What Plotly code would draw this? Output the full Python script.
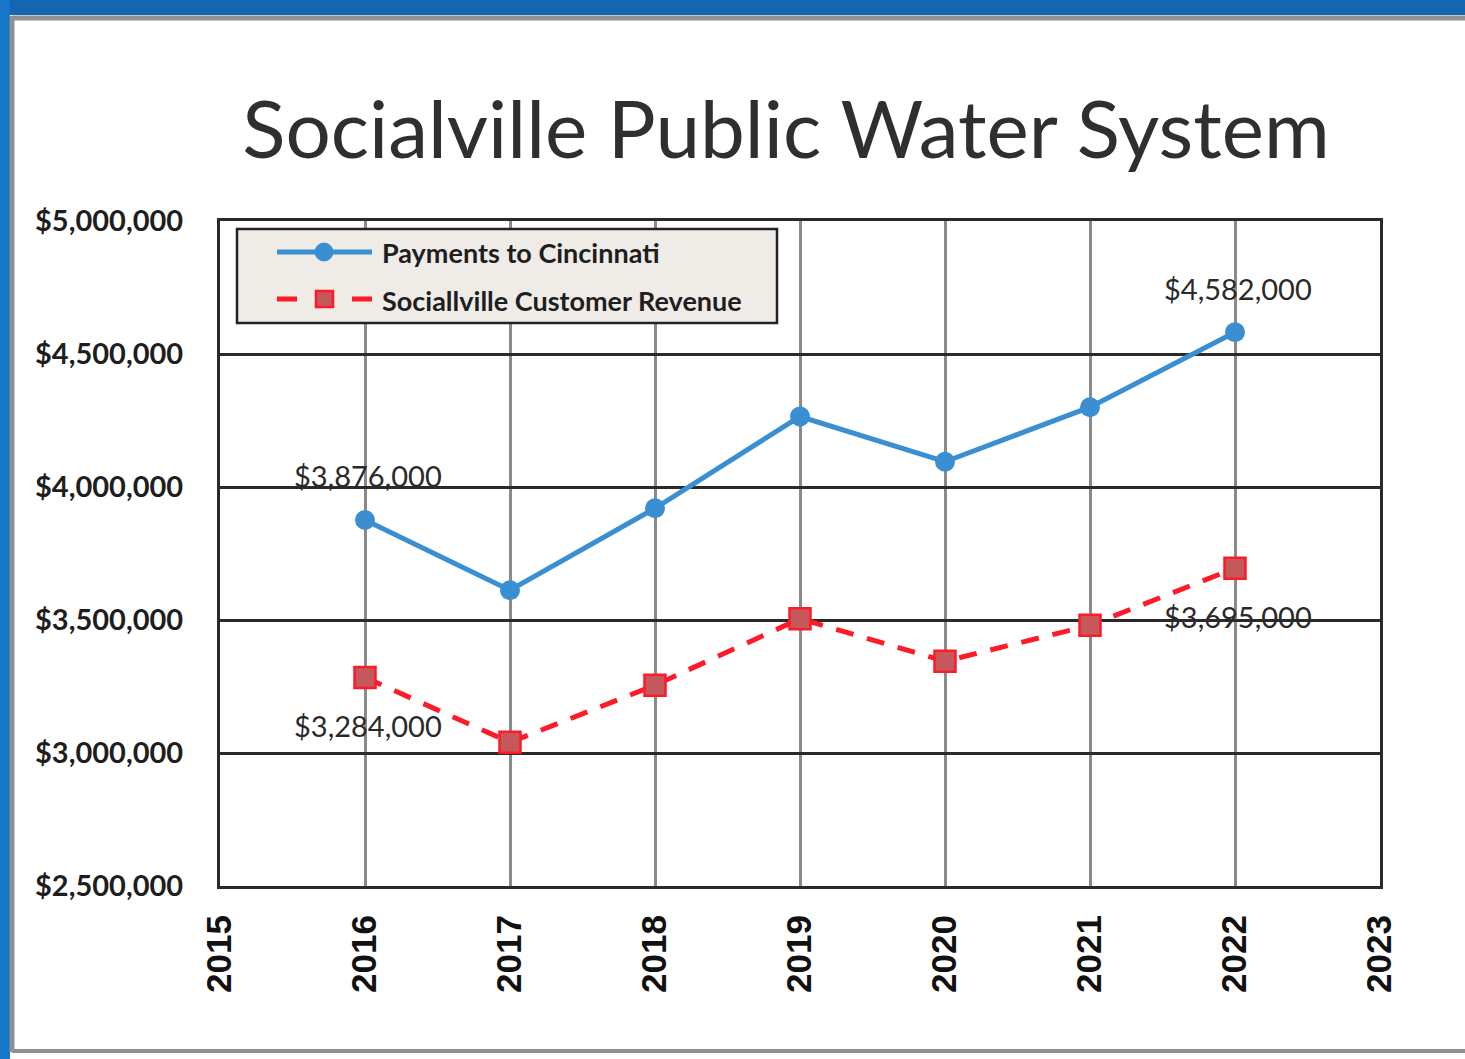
import plotly.graph_objects as go

# Annual figures for the Socialville public water system
years = [2016, 2017, 2018, 2019, 2020, 2021, 2022]
payments_to_cincinnati = [3876000, 3612000, 3920000, 4265000, 4095000, 4300000, 4582000]
customer_revenue = [3284000, 3040000, 3255000, 3505000, 3345000, 3480000, 3695000]

series_names = ["Payments to Cincinnati", "Sociallville Customer Revenue"]
x_ticks = list(range(2015, 2024))
y_ticks = [2500000, 3000000, 3500000, 4000000, 4500000, 5000000]
y_tick_text = ["${:,}".format(v) for v in y_ticks]

BLUE = "#3a8fd2"
RED = "#ff1a2a"
RED_FILL = "#c4585a"

W, H = 1465, 1059
PL, PR, PT, PB = 220, 1380, 221, 886  # plot area in pixels


def px_x(p):
    return (p - PL) / (PR - PL)


def px_y(p):
    return (PB - p) / (PB - PT)


fig = go.Figure()

fig.add_trace(go.Scatter(
    x=years, y=payments_to_cincinnati, name=series_names[0], mode="lines+markers",
    line=dict(color=BLUE, width=5),
    marker=dict(symbol="circle", size=20, color=BLUE),
    showlegend=False,
))
fig.add_trace(go.Scatter(
    x=years, y=customer_revenue, name=series_names[1], mode="lines+markers",
    line=dict(color=RED, width=5, dash="18px,14px"),
    marker=dict(symbol="square", size=21, color=RED_FILL, line=dict(color=RED, width=2.5)),
    showlegend=False,
))

label_font = dict(family="Lato, Carlito, sans-serif", size=29, color="#2a2a2a")
# Value labels on the first and last points of each series
for series, shift in ((payments_to_cincinnati, 44), (customer_revenue, -48)):
    for i in (0, len(years) - 1):
        fig.add_annotation(
            x=years[i], y=series[i], text="${:,}".format(series[i]),
            showarrow=False, yshift=shift, xshift=3, font=label_font,
        )

# Legend box drawn inside the plot area
shapes = []
shapes.append(dict(type="rect", xref="paper", yref="paper",
                   x0=px_x(237), x1=px_x(777), y0=px_y(323), y1=px_y(229),
                   fillcolor="#efebe7", line=dict(color="#222222", width=2.5), layer="above"))
for i, (color, dash) in enumerate(((BLUE, "solid"), (RED, "20px,55px"))):
    yy = px_y(252 + 47 * i)
    shapes.append(dict(type="line", xref="paper", yref="paper",
                       x0=px_x(277), x1=px_x(372), y0=yy, y1=yy,
                       line=dict(color=color, width=5, dash=dash), layer="above"))
# legend marker glyphs
cy = 252
shapes.append(dict(type="circle", xref="paper", yref="paper",
                   x0=px_x(315), x1=px_x(333), y0=px_y(cy + 9), y1=px_y(cy - 9),
                   fillcolor=BLUE, line=dict(color=BLUE, width=1), layer="above"))
cy = 299
shapes.append(dict(type="rect", xref="paper", yref="paper",
                   x0=px_x(316), x1=px_x(333), y0=px_y(cy + 8), y1=px_y(cy - 8),
                   fillcolor=RED_FILL, line=dict(color=RED, width=2.5), layer="above"))
for i, name in enumerate(series_names):
    fig.add_annotation(
        xref="paper", yref="paper", x=px_x(380), y=px_y(253 + 47 * i),
        xanchor="left", yanchor="middle", text="<b>" + name + "</b>", showarrow=False,
        font=dict(family="Lato, Carlito, sans-serif", size=27, color="#1e1e1e"),
    )

# Slide frame: blue edges and a grey inner border
frame = [
    dict(type="rect", xref="paper", yref="paper", x0=px_x(0), x1=px_x(W), y0=px_y(0), y1=px_y(15),
         fillcolor="#1466b0", line=dict(width=0), layer="below"),
    dict(type="rect", xref="paper", yref="paper", x0=px_x(0), x1=px_x(10), y0=px_y(0), y1=px_y(H),
         fillcolor="#1677c8", line=dict(width=0), layer="below"),
    dict(type="line", xref="paper", yref="paper", x0=px_x(12), x1=px_x(W), y0=px_y(18), y1=px_y(18),
         line=dict(color="#8e9296", width=5), layer="below"),
    dict(type="line", xref="paper", yref="paper", x0=px_x(12), x1=px_x(12), y0=px_y(16), y1=px_y(1052),
         line=dict(color="#8e9296", width=5), layer="below"),
    dict(type="line", xref="paper", yref="paper", x0=px_x(12), x1=px_x(W), y0=px_y(1051), y1=px_y(1051),
         line=dict(color="#8e9296", width=4), layer="below"),
]
shapes = frame + shapes

fig.update_layout(
    width=W, height=H,
    margin=dict(l=PL, r=W - PR, t=PT, b=H - PB),
    paper_bgcolor="white", plot_bgcolor="white",
    title=dict(text="Socialville Public Water System", x=786 / W, xanchor="center",
               y=1 - 130 / H, yanchor="middle",
               font=dict(family="Lato, Carlito, sans-serif", size=80, color="#2f2f2f")),
    shapes=shapes,
    showlegend=False,
)

fig.update_xaxes(
    range=[2015, 2023], tickvals=x_ticks, ticktext=[str(v) for v in x_ticks],
    tickangle=-90, ticklabelstandoff=12,
    tickfont=dict(family="Liberation Sans, Arial, sans-serif", size=35, color="#111111", weight="bold"),
    showgrid=True, gridcolor="#8a8a8a", gridwidth=2.5,
    showline=True, linecolor="#2a2a2a", linewidth=3, mirror=True, zeroline=False,
)
fig.update_yaxes(
    range=[2500000, 5000000], tickvals=y_ticks, ticktext=y_tick_text,
    ticklabelstandoff=28,
    tickfont=dict(family="Lato, Carlito, sans-serif", size=29, color="#1e1e1e", weight="bold"),
    showgrid=True, gridcolor="#2a2a2a", gridwidth=2.5,
    showline=True, linecolor="#2a2a2a", linewidth=3, mirror=True, zeroline=False,
)

fig.write_html("out.html")
